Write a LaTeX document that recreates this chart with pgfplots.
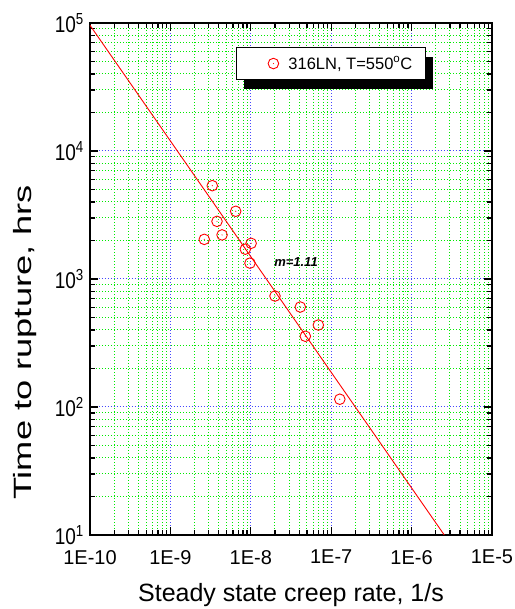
\documentclass[border=0pt]{standalone}
\usepackage{fontspec}
\setmainfont{Liberation Sans}
\usepackage{pgfplots}
\pgfplotsset{compat=1.18}
\usetikzlibrary{shadows}
\definecolor{gridGreen}{RGB}{0,235,0}
\definecolor{gridBlue}{RGB}{70,70,255}

% open circle with a centre dot
\pgfdeclareplotmark{odot}{%
  \pgfpathcircle{\pgfpointorigin}{\pgfplotmarksize}\pgfusepathqstroke
  \pgfpathcircle{\pgfpointorigin}{0.6pt}\pgfusepathqfill}

\begin{document}
\begin{tikzpicture}
\useasboundingbox (-90pt,-74pt) rectangle (424pt,535pt);
\begin{axis}[
  scale only axis, width=402pt, height=512pt,
  xmode=log, ymode=log,
  xmin=1e-10, xmax=1e-5, ymin=10, ymax=1e5,
  xtick={1e-10,1e-9,1e-8,1e-7,1e-6,1e-5},
  xticklabels={1E-10,1E-9,1E-8,1E-7,1E-6,1E-5},
  ytick={10,100,1000,10000,100000},
  yticklabels={10\textsuperscript{1},10\textsuperscript{2},10\textsuperscript{3},10\textsuperscript{4},10\textsuperscript{5}},
  tick align=inside, xtick pos=both, ytick pos=both,
  major tick length=8pt, minor tick length=5pt,
  tick style={black, line width=1.3pt},
  axis line style={line width=1.8pt},
  grid=both,
  major grid style={gridBlue, line width=1pt, dash pattern=on 1pt off 2pt},
  minor grid style={gridGreen, line width=1pt, dash pattern=on 1pt off 2pt},
  xticklabel style={font=\fontsize{20}{24}\selectfont, inner sep=7pt, yshift=-8pt},
  yticklabel style={font=\fontsize{19}{23}\selectfont, yscale=1.2, inner sep=6pt},
  xlabel={Steady state creep rate, 1/s},
  ylabel={Time to rupture, hrs},
  xlabel style={font=\fontsize{25}{30}\selectfont, at={(axis description cs:0.5,-0.118)}, anchor=center},
  ylabel style={font=\fontsize{25}{30}\selectfont, at={(axis description cs:-0.162,0.376)}, anchor=center, xscale=1.45},
  legend style={at={(rel axis cs:0.363,0.953)}, anchor=north west,
    draw=black, line width=1pt, fill=white,
    font=\fontsize{16.5}{19}\selectfont, inner xsep=11pt, inner ysep=7pt,
    drop shadow={shadow xshift=8pt, shadow yshift=-9pt, opacity=1, fill=black}},
]
\addplot[only marks, mark=odot, mark size=5.3pt, red, line width=0.9pt,
  legend image code/.code={%
    \node[draw=none, fill=none, inner sep=0pt, minimum width=39pt, minimum height=12pt, xshift=-6.5pt] {};
    \path[draw=none] plot[mark=odot, mark size=5.3pt, mark options={draw=red, fill=red, line width=0.9pt}] coordinates {(0pt,0pt)};}
] coordinates {
  (3.32e-9,5360) (6.49e-9,3380) (3.80e-9,2820) (4.39e-9,2210)
  (2.64e-9,2040) (1.01e-8,1900) (8.55e-9,1710) (9.77e-9,1330)
  (2.0e-8,736) (4.13e-8,604) (6.92e-8,437) (4.77e-8,357)
  (1.28e-7,115)
};
\addlegendentry{316LN, T=550\textsuperscript{o}C}
\addplot[red, line width=0.9pt, forget plot] coordinates {(1e-10,96000) (2.55e-6,10)};
\node[font=\bfseries\itshape\fontsize{13}{15}\selectfont] at (axis cs:3.65e-8,1358) {m=1.11};
\end{axis}
\end{tikzpicture}
\end{document}
